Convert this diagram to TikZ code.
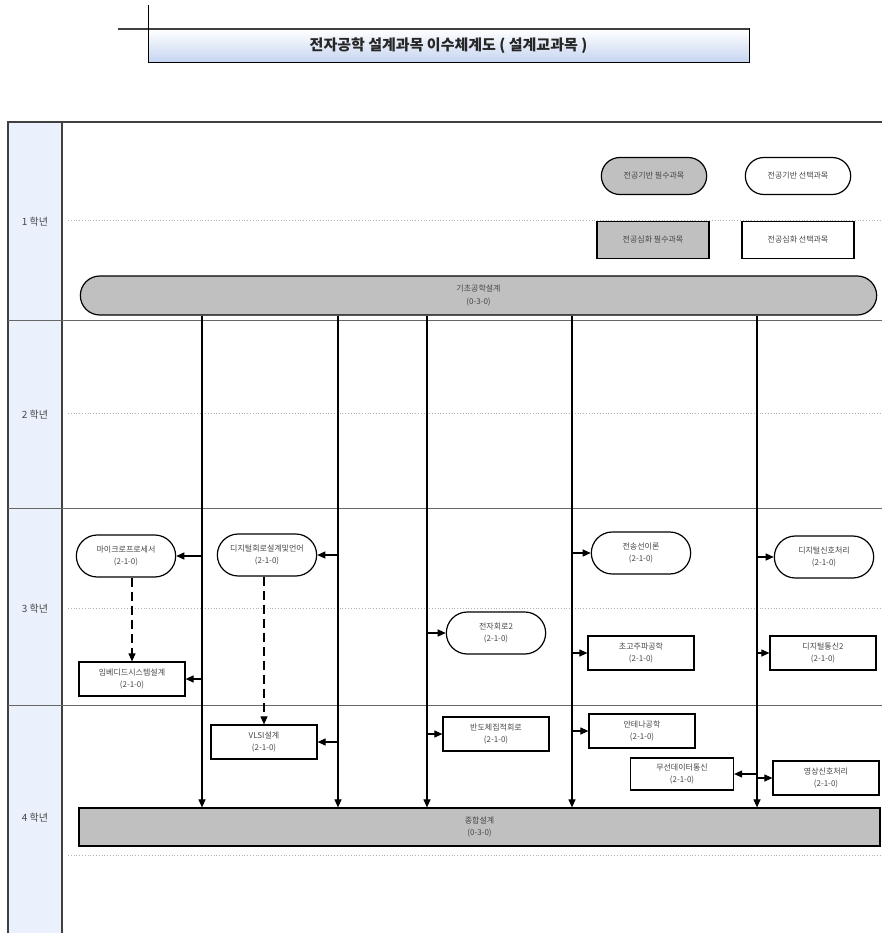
\documentclass[tikz,border=0pt]{standalone}
\usepackage{fontspec}
\setmainfont{Noto Sans CJK KR}
\usetikzlibrary{arrows.meta,shapes.misc,calc}

\definecolor{barGray}{RGB}{192,192,192}
\definecolor{yearBlue}{RGB}{234,241,252}
\definecolor{titleBlue}{RGB}{196,212,240}
\definecolor{txtGray}{RGB}{70,70,70}

\tikzset{
    baseSubj/.style={rounded rectangle, draw, line width=1.2pt, minimum width=106pt, minimum height=42pt,
        align=center, text=txtGray, font=\fontsize{8}{12.5}\selectfont},
    deepSubj/.style={rectangle, draw, line width=1.2pt, minimum width=106pt, minimum height=34pt,
        align=center, text=txtGray, font=\fontsize{8}{12.5}\selectfont},
    arr/.style={line width=1.1pt, -{Triangle[length=8pt,width=7pt]}},
    dasharr/.style={arr, dash pattern=on 9pt off 5pt},
    sepline/.style={line width=0.9pt, black!60},
    dotline/.style={gray!60, dotted, line width=0.8pt},
    yearlabel/.style={text=txtGray, font=\fontsize{10}{12}\selectfont}
}

\begin{document}
\begin{tikzpicture}[x=1pt, y=-1pt]
        \useasboundingbox (0,0) rectangle (882,933);

        % title box
        \shade[top color=white, bottom color=titleBlue] (148,29) rectangle (749,63);
        \draw[line width=1pt] (148,29) rectangle (749,63);
        \draw[line width=1.4pt, black!75] (118,29) -- (749,29);
        \draw[line width=1pt] (148,5) -- (148,63);
        \node[text=black!85] (title) at (448.5,46) {\fontsize{15}{17}\selectfont\bfseries 전자공학 설계과목 이수체계도 ( 설계교과목 )};

        % frame and year column
        \fill[yearBlue] (8,122) rectangle (62,933);
        \draw[line width=1.2pt, black!75] (8,933) -- (8,122) -- (882,122);
        \draw[line width=1.2pt, black!75] (62,122) -- (62,933);
        \foreach \yy in {320,508,705}
            \draw[sepline] (8,\yy) -- (882,\yy);
        \foreach \yy in {220,413,608,855}
            \draw[dotline] (68,\yy) -- (882,\yy);

        \node[yearlabel] (y1) at (35,222) {1 학년};
        \node[yearlabel] (y2) at (35,415) {2 학년};
        \node[yearlabel] (y3) at (35,609) {3 학년};
        \node[yearlabel] (y4) at (35,818) {4 학년};

        % legend
        \node[baseSubj, fill=barGray, minimum width=112pt, minimum height=37pt] (lgA) at (654,176) {전공기반 필수과목};
        \node[baseSubj, minimum width=112pt, minimum height=37pt] (lgB) at (798,176) {전공기반 선택과목};
        \node[deepSubj, fill=barGray, minimum width=112pt, minimum height=37pt] (lgC) at (653,240) {전공심화 필수과목};
        \node[deepSubj, minimum width=112pt, minimum height=37pt] (lgD) at (798,240) {전공심화 선택과목};

        % common bars
        \node[baseSubj, fill=barGray, minimum width=803pt, minimum height=39pt] (basic) at (478.5,295.5) {기초공학설계\\(0-3-0)};
        \node[deepSubj, fill=barGray, minimum width=801pt, minimum height=38pt] (capstone) at (479.5,827) {종합설계\\(0-3-0)};

        % subjects, 3rd year
        \node[baseSubj] (micro) at (126,556) {마이크로프로세서\\(2-1-0)};
        \node[baseSubj] (dlogic) at (267,555) {디지털회로설계및언어\\(2-1-0)};
        \node[deepSubj] (embed) at (132,679) {임베디드시스템설계\\(2-1-0)};
        \node[baseSubj] (elec) at (496,633) {전자회로2\\(2-1-0)};
        \node[baseSubj] (tline) at (641,553) {전송선이론\\(2-1-0)};
        \node[deepSubj] (micwave) at (641,653) {초고주파공학\\(2-1-0)};
        \node[baseSubj] (dsp) at (824,557) {디지털신호처리\\(2-1-0)};
        \node[deepSubj] (dcomm) at (823,653) {디지털통신2\\(2-1-0)};

        % subjects, 4th year
        \node[deepSubj] (vlsi) at (264,742) {VLSI설계\\(2-1-0)};
        \node[deepSubj] (semic) at (496,734) {반도체집적회로\\(2-1-0)};
        \node[deepSubj] (antenna) at (642,731) {안테나공학\\(2-1-0)};
        \node[deepSubj, minimum width=103pt, minimum height=32pt] (wdata) at (682,774) {무선데이터통신\\(2-1-0)};
        \node[deepSubj] (image) at (826,778) {영상신호처리\\(2-1-0)};

        % vertical feed lines
        \coordinate (c1) at (202,0);
        \coordinate (c2) at (338,0);
        \coordinate (c3) at (427,0);
        \coordinate (c4) at (572,0);
        \coordinate (c5) at (757,0);
        \foreach \c in {c1,c2,c3,c4,c5}
            \draw[arr] (basic.south -| \c) -- (capstone.north -| \c);

        % draw arrows
        \draw[arr] (micro.east -| c1) -- (micro.east);
        \draw[arr] (embed.east -| c1) -- (embed.east);
        \draw[arr] (dlogic.east -| c2) -- (dlogic.east);
        \draw[arr] (vlsi.east -| c2) -- (vlsi.east);
        \draw[arr] (elec.west -| c3) -- (elec.west);
        \draw[arr] (semic.west -| c3) -- (semic.west);
        \draw[arr] (tline.west -| c4) -- (tline.west);
        \draw[arr] (micwave.west -| c4) -- (micwave.west);
        \draw[arr] (antenna.west -| c4) -- (antenna.west);
        \draw[arr] (dsp.west -| c5) -- (dsp.west);
        \draw[arr] (dcomm.west -| c5) -- (dcomm.west);
        \draw[arr] (wdata.east -| c5) -- (wdata.east);
        \draw[arr] (image.west -| c5) -- (image.west);

        % dashed links
        \draw[dasharr] (micro.south -| embed.north) -- (embed.north);
        \draw[dasharr] (dlogic.south -| vlsi.north) -- (vlsi.north);

    \end{tikzpicture}
\end{document}
